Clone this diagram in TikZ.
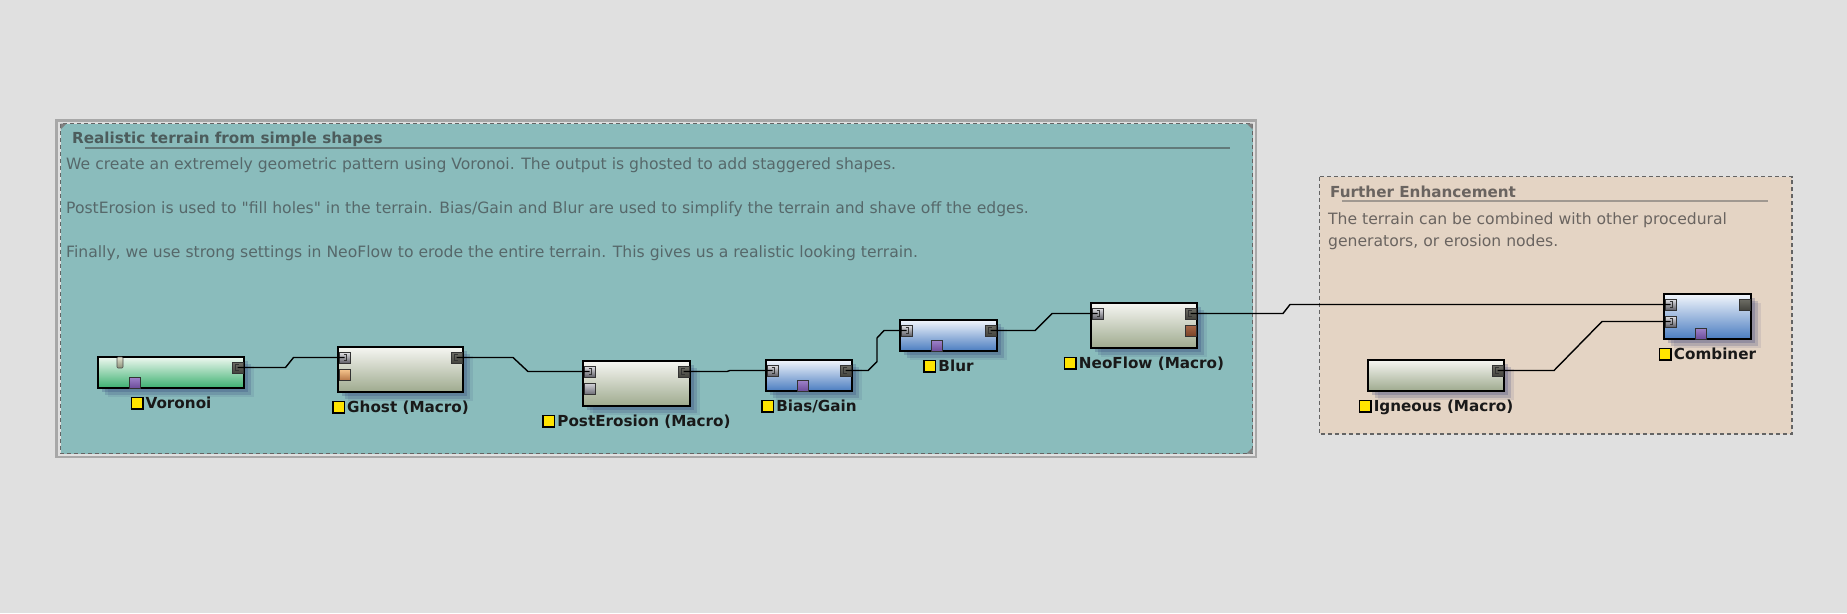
\documentclass[tikz,border=0pt]{standalone}
\usepackage{fontspec}
\setmainfont{DejaVu Sans}[Ligatures=TeXOff]
\usetikzlibrary{positioning,shadows}

\definecolor{canvasgray}{HTML}{E0E0E0}
\definecolor{tealfill}{HTML}{8ABCBC}
\definecolor{tealtitle}{HTML}{4C5C5C}
\definecolor{tealtext}{HTML}{56686A}
\definecolor{tealrule}{HTML}{627A7A}
\definecolor{beigefill}{HTML}{E4D4C4}
\definecolor{beigetext}{HTML}{6A6460}
\definecolor{beigerule}{HTML}{A09890}
\definecolor{framegray}{HTML}{A8A8A8}
\definecolor{dashgray}{HTML}{646464}
\definecolor{flagyellow}{HTML}{FFE400}
\definecolor{shadowc}{HTML}{2A3470}
\definecolor{gentop}{HTML}{EEF8F0}
\definecolor{genbot}{HTML}{3CB070}
\definecolor{macrotop}{HTML}{F6F6F2}
\definecolor{macrobot}{HTML}{9EAA8E}
\definecolor{filtertop}{HTML}{F2F6FC}
\definecolor{filterbot}{HTML}{4A7CC0}
\definecolor{intop}{HTML}{E4E4E8}
\definecolor{inbot}{HTML}{5E5E66}
\definecolor{outtop}{HTML}{6E6E66}
\definecolor{outbot}{HTML}{44443E}
\definecolor{orangetop}{HTML}{F8C890}
\definecolor{orangebot}{HTML}{B87848}
\definecolor{graytop}{HTML}{D4D4DA}
\definecolor{graybot}{HTML}{707078}
\definecolor{browntop}{HTML}{A86848}
\definecolor{brownbot}{HTML}{7A4428}
\definecolor{tagtop}{HTML}{9C80C8}
\definecolor{tagbot}{HTML}{6A4A98}
\definecolor{seedtop}{HTML}{E4E4D0}
\definecolor{seedbot}{HTML}{8A9078}

\newcommand{\bodyfont}{\fontsize{15.6}{22}\selectfont}
\newcommand{\boldfont}{\fontsize{15.2}{18}\selectfont\bfseries}
\newcommand{\flag}{{\setlength\fboxsep{0pt}\setlength\fboxrule{1.5pt}%
  \fcolorbox{black}{flagyellow}{\rule{0pt}{10pt}\rule{10pt}{0pt}}}\hspace{2pt}}

\tikzset{
  softshadow/.style={
    drop shadow={shadow xshift=4pt, shadow yshift=-4pt, opacity=.22, fill=shadowc},
    drop shadow={shadow xshift=7pt, shadow yshift=-7pt, opacity=.18, fill=shadowc},
    drop shadow={shadow xshift=10pt, shadow yshift=-9pt, opacity=.1, fill=shadowc}},
  blk/.style={draw=black, line width=2pt, rectangle, inner sep=0pt, softshadow},
  generator/.style={blk, top color=gentop, bottom color=genbot},
  macro/.style={blk, top color=macrotop, bottom color=macrobot},
  filter/.style={blk, top color=filtertop, bottom color=filterbot},
  port/.style={draw=black!80, line width=.8pt, rectangle, inner sep=0pt, minimum size=11pt},
  inport/.style={port, top color=intop, bottom color=inbot},
  outport/.style={port, top color=outtop, bottom color=outbot},
  orangeport/.style={port, top color=orangetop, bottom color=orangebot},
  grayport/.style={port, top color=graytop, bottom color=graybot},
  brownport/.style={port, top color=browntop, bottom color=brownbot},
  tagport/.style={port, top color=tagtop, bottom color=tagbot},
  inmark/.style={path picture={\draw[line width=1.3pt]
    ([shift={(-1pt,3pt)}]path picture bounding box.center) -- ++(3pt,0pt) -- ++(0pt,-6pt) -- ++(-3pt,0pt);}},
  outmark/.style={path picture={\draw[line width=1.3pt]
    ([shift={(1pt,3pt)}]path picture bounding box.center) -- ++(-3pt,0pt) -- ++(0pt,-6pt) -- ++(3pt,0pt);}},
  lbl/.style={inner sep=0pt, text height=13pt, text depth=3pt, font=\boldfont, text=black!90},
  grouptitle/.style={inner sep=0pt, anchor=base west, font=\boldfont},
  grouptext/.style={inner sep=0pt, anchor=base west, font=\bodyfont},
  wire/.style={line width=1.4pt, black},
}

\begin{document}
\begin{tikzpicture}[x=1pt, y=-1pt]
  \fill[canvasgray] (0,0) rectangle (1847,613);
  \useasboundingbox (0,0) rectangle (1847,613);

  % groups
  \draw[framegray, line width=2.5pt] (56.5,120.5) rectangle (1256,457);
  \draw[dashgray, fill=tealfill, line width=1.5pt, dash pattern=on 4pt off 3pt] (60.5,123.5) rectangle (1252.5,453.5);
  \fill[gray] (60.5,123.5) -- (66.5,123.5) -- (60.5,129.5) -- cycle;
  \fill[gray] (1252.5,123.5) -- (1246.5,123.5) -- (1252.5,129.5) -- cycle;
  \fill[gray] (1252.5,453.5) -- (1246.5,453.5) -- (1252.5,447.5) -- cycle;
  \draw[dashgray, fill=beigefill, line width=1.5pt, dash pattern=on 4pt off 3pt] (1319.5,176.5) rectangle (1792,434);

  \node[grouptitle, text=tealtitle] (teal-title) at (72,143) {Realistic terrain from simple shapes};
  \draw[tealrule, line width=2pt] (85,148) -- (1230,148);
  \node[grouptext, text=tealtext] (teal-l1) at (66,169) {We create an extremely geometric pattern using Voronoi. The output is ghosted to add staggered shapes.};
  \node[grouptext, text=tealtext] (teal-l2) at (66,213) {PostErosion is used to "fill holes" in the terrain. Bias/Gain and Blur are used to simplify the terrain and shave off the edges.};
  \node[grouptext, text=tealtext] (teal-l3) at (66,257) {Finally, we use strong settings in NeoFlow to erode the entire terrain. This gives us a realistic looking terrain.};

  \node[grouptitle, text=beigetext] (beige-title) at (1330,197) {Further Enhancement};
  \draw[beigerule, line width=2pt] (1342,201) -- (1768,201);
  \node[grouptext, text=beigetext] (beige-l1) at (1328,224) {The terrain can be combined with other procedural};
  \node[grouptext, text=beigetext] (beige-l2) at (1328,246) {generators, or erosion nodes.};

  % nodes
  \node[generator, minimum width=146pt, minimum height=31pt] (voronoi) at (171,372.5) {};
  \node[macro, minimum width=125pt, minimum height=45pt] (ghost) at (400.5,369.5) {};
  \node[macro, minimum width=107pt, minimum height=45pt] (posterosion) at (636.5,383.5) {};
  \node[filter, minimum width=86pt, minimum height=31pt] (biasgain) at (809,375.5) {};
  \node[filter, minimum width=97pt, minimum height=31pt] (blur) at (948.5,335.5) {};
  \node[macro, minimum width=106pt, minimum height=45pt] (neoflow) at (1144,325.5) {};
  \node[filter, minimum width=87pt, minimum height=45pt] (combiner) at (1707.5,316.5) {};
  \node[macro, minimum width=136pt, minimum height=31pt] (igneous) at (1436,375.5) {};

  % ports
  \node[draw=black!70, line width=.6pt, rounded corners=1pt, top color=seedtop, bottom color=seedbot,
        minimum width=6pt, minimum height=11pt, inner sep=0pt] (vor-seed) at ([xshift=23pt,yshift=-6.5pt]voronoi.north west) {};
  \node[tagport] (vor-tag) at ([xshift=37.5pt,yshift=6pt]voronoi.south west) {};
  \node[outport, outmark] (vor-out) at ([xshift=-7.5pt,yshift=-11.5pt]voronoi.north east) {};

  \node[inport, inmark] (gho-in) at ([xshift=7.5pt,yshift=-11.5pt]ghost.north west) {};
  \node[orangeport] (gho-mask) at ([xshift=7.5pt,yshift=-28.5pt]ghost.north west) {};
  \node[outport, outmark] (gho-out) at ([xshift=-7.5pt,yshift=-11.5pt]ghost.north east) {};

  \node[inport, inmark] (pos-in) at ([xshift=7.5pt,yshift=-11.5pt]posterosion.north west) {};
  \node[grayport] (pos-mask) at ([xshift=7.5pt,yshift=-28.5pt]posterosion.north west) {};
  \node[outport, outmark] (pos-out) at ([xshift=-7.5pt,yshift=-11.5pt]posterosion.north east) {};

  \node[inport, inmark] (bia-in) at ([xshift=7.5pt,yshift=-11.5pt]biasgain.north west) {};
  \node[tagport] (bia-tag) at ([xshift=37.5pt,yshift=6pt]biasgain.south west) {};
  \node[outport, outmark] (bia-out) at ([xshift=-7.5pt,yshift=-11.5pt]biasgain.north east) {};

  \node[inport, inmark] (blu-in) at ([xshift=7.5pt,yshift=-11.5pt]blur.north west) {};
  \node[tagport] (blu-tag) at ([xshift=37.5pt,yshift=6pt]blur.south west) {};
  \node[outport, outmark] (blu-out) at ([xshift=-7.5pt,yshift=-11.5pt]blur.north east) {};

  \node[inport, inmark] (neo-in) at ([xshift=7.5pt,yshift=-11.5pt]neoflow.north west) {};
  \node[outport, outmark] (neo-out) at ([xshift=-7.5pt,yshift=-11.5pt]neoflow.north east) {};
  \node[brownport] (neo-flow) at ([xshift=-7.5pt,yshift=-28.5pt]neoflow.north east) {};

  \node[inport, inmark] (com-in1) at ([xshift=7.5pt,yshift=-11.5pt]combiner.north west) {};
  \node[inport, inmark] (com-in2) at ([xshift=7.5pt,yshift=-28.5pt]combiner.north west) {};
  \node[tagport] (com-tag) at ([xshift=37.5pt,yshift=6pt]combiner.south west) {};
  \node[outport] (com-out) at ([xshift=-7.5pt,yshift=-11.5pt]combiner.north east) {};

  \node[outport, outmark] (ign-out) at ([xshift=-7.5pt,yshift=-11.5pt]igneous.north east) {};

  % labels
  \node[lbl, below=6pt of voronoi] (voronoi-lbl) {\flag Voronoi};
  \node[lbl, below=6pt of ghost] (ghost-lbl) {\flag Ghost (Macro)};
  \node[lbl, below=6pt of posterosion] (posterosion-lbl) {\flag PostErosion (Macro)};
  \node[lbl, below=6pt of biasgain] (biasgain-lbl) {\flag Bias/Gain};
  \node[lbl, below=6pt of blur] (blur-lbl) {\flag Blur};
  \node[lbl, below=6pt of neoflow] (neoflow-lbl) {\flag NeoFlow (Macro)};
  \node[lbl, below=6pt of combiner] (combiner-lbl) {\flag Combiner};
  \node[lbl, below=6pt of igneous] (igneous-lbl) {\flag Igneous (Macro)};

  % wires
  \draw[wire] (vor-out.center) -- ++(48,0) -- ++(8,-10) -- (gho-in.center);
  \draw[wire] (gho-out.center) -- ++(56.5,0) -- ++(15,14) -- (pos-in.center);
  \draw[wire] (pos-out.center) -- ++(43.5,0) -- ++(3,-1) -- (bia-in.center);
  \draw[wire] (bia-out.center) -- ++(22.5,0) -- ++(9,-9) -- ++(0,-23.5) -- ++(7,-7.5) -- (blu-in.center);
  \draw[wire] (blu-out.center) -- ++(44.5,0) -- ++(17,-17) -- (neo-in.center);
  \draw[wire] (neo-out.center) -- ++(92.5,0) -- ++(7,-9) -- (com-in1.center);
  \draw[wire] (ign-out.center) -- ++(56.5,0) -- ++(48,-49) -- (com-in2.center);
\end{tikzpicture}
\end{document}
